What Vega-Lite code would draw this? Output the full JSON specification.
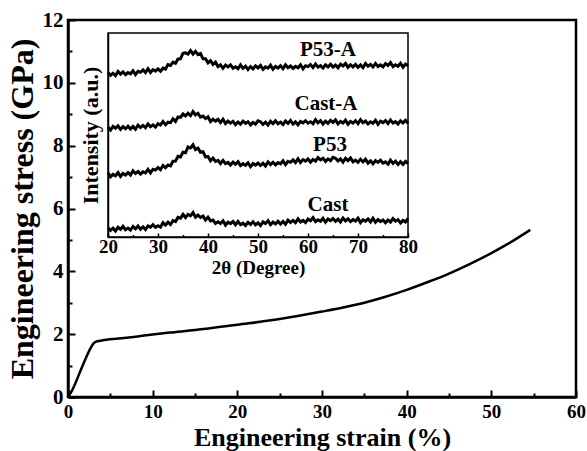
{
  "$schema": "https://vega.github.io/schema/vega-lite/v6.json",
  "width": 508,
  "height": 377,
  "autosize": {"type": "none"},
  "padding": {"left": 68, "top": 20, "right": 11, "bottom": 54},
  "background": "white",
  "config": {
    "view": {"stroke": "black", "strokeWidth": 2.5},
    "axis": {
      "labelFont": "Liberation Serif",
      "titleFont": "Liberation Serif",
      "labelFontWeight": "bold",
      "titleFontWeight": "bold",
      "labelColor": "black",
      "titleColor": "black",
      "domainColor": "black",
      "tickColor": "black",
      "grid": false,
      "labelFlush": false,
      "labelOverlap": false,
      "labelBound": false
    },
    "text": {"font": "Liberation Serif"}
  },
  "layer": [
    {
      "data": {"values": [
        {"strain": 0, "stress": 0}, {"strain": 0.5, "stress": 0.22}, {"strain": 1, "stress": 0.52},
        {"strain": 1.5, "stress": 0.85}, {"strain": 2, "stress": 1.17}, {"strain": 2.5, "stress": 1.47},
        {"strain": 3, "stress": 1.7}, {"strain": 3.3, "stress": 1.76}, {"strain": 4, "stress": 1.8},
        {"strain": 6, "stress": 1.86}, {"strain": 8, "stress": 1.92}, {"strain": 10, "stress": 1.99},
        {"strain": 12, "stress": 2.05}, {"strain": 15, "stress": 2.13}, {"strain": 20, "stress": 2.3},
        {"strain": 25, "stress": 2.48}, {"strain": 30, "stress": 2.72}, {"strain": 32.5, "stress": 2.85},
        {"strain": 35, "stress": 3.0}, {"strain": 37.5, "stress": 3.19}, {"strain": 40, "stress": 3.41},
        {"strain": 42.5, "stress": 3.66}, {"strain": 45, "stress": 3.93}, {"strain": 47.5, "stress": 4.24},
        {"strain": 50, "stress": 4.58}, {"strain": 52, "stress": 4.88}, {"strain": 54.6, "stress": 5.32}
      ]},
      "mark": {"type": "line", "color": "black", "strokeWidth": 2.5, "interpolate": "monotone"},
      "encoding": {
        "x": {
          "field": "strain", "type": "quantitative",
          "scale": {"domain": [0, 60], "nice": false, "zero": false},
          "axis": {
            "orient": "bottom",
            "values": [0, 5, 10, 15, 20, 25, 30, 35, 40, 45, 50, 55, 60],
            "labelExpr": "datum.value % 10 === 0 ? datum.label : ''",
            "tickSize": {"condition": {"test": "datum.value % 10 === 0", "value": -7}, "value": -4},
            "tickWidth": 2,
            "domainWidth": 2.5,
            "labelFontSize": 19,
            "labelPadding": 12,
            "title": "Engineering strain (%)",
            "titleFontSize": 26,
            "titleBaseline": "alphabetic",
            "titleY": 48
          }
        },
        "y": {
          "field": "stress", "type": "quantitative",
          "scale": {"domain": [0, 12], "nice": false, "zero": false},
          "axis": {
            "orient": "left",
            "values": [0, 1, 2, 3, 4, 5, 6, 7, 8, 9, 10, 11, 12],
            "labelExpr": "datum.value % 2 === 0 ? datum.label : ''",
            "tickSize": {"condition": {"test": "datum.value % 2 === 0", "value": -7}, "value": -4},
            "tickWidth": 2,
            "domainWidth": 2.5,
            "labelFontSize": 21,
            "labelPadding": 12,
            "title": "Engineering stress (GPa)",
            "titleFontSize": 32,
            "titlePadding": 3
          }
        }
      }
    },
    {
      "layer": [
        {
          "data": {"values": [{"x1": 20, "x2": 80, "y1": 0, "y2": 204}]},
          "mark": {"type": "rect", "fill": null, "fillOpacity": 0, "stroke": "black", "strokeWidth": 1.5},
          "encoding": {
            "x": {"field": "x1", "type": "quantitative", "scale": {"domain": [20, 80], "range": [40, 340], "nice": false, "zero": false}},
            "x2": {"field": "x2"},
            "y": {"field": "y1", "type": "quantitative", "scale": {"domain": [0, 204], "range": [217, 13], "nice": false, "zero": false}},
            "y2": {"field": "y2"}
          }
        },
        {
          "data": {"values": [
            {"lx": 64, "ly": 187, "label": "P53-A"},
            {"lx": 63.6, "ly": 133, "label": "Cast-A"},
            {"lx": 64.4, "ly": 92, "label": "P53"},
            {"lx": 64, "ly": 32, "label": "Cast"}
          ]},
          "mark": {"type": "text", "fontSize": 21, "fontWeight": "bold", "font": "Liberation Serif", "color": "black", "align": "center", "baseline": "middle"},
          "encoding": {
            "x": {"field": "lx", "type": "quantitative", "scale": {"domain": [20, 80], "range": [40, 340], "nice": false, "zero": false}},
            "y": {"field": "ly", "type": "quantitative", "scale": {"domain": [0, 204], "range": [217, 13], "nice": false, "zero": false}},
            "text": {"field": "label"}
          }
        },
        {
          "data": {"values": [
            {"t":20,"Cast":9.2,"P53":64.1,"CastA":109.7,"P53A":164.5},
            {"t":20.5,"Cast":6.5,"P53":60.2,"CastA":106.9,"P53A":161.7},
            {"t":21,"Cast":8.8,"P53":62.6,"CastA":110.6,"P53A":163.8},
            {"t":21.5,"Cast":5.9,"P53":61.2,"CastA":108.7,"P53A":161.3},
            {"t":22,"Cast":9.7,"P53":64.4,"CastA":111.2,"P53A":165.5},
            {"t":22.5,"Cast":7.7,"P53":60.6,"CastA":107.6,"P53A":162.9},
            {"t":23,"Cast":10.7,"P53":63.5,"CastA":110.4,"P53A":165.2},
            {"t":23.5,"Cast":7.2,"P53":62,"CastA":108.3,"P53A":162.3},
            {"t":24,"Cast":8.9,"P53":64.4,"CastA":110.8,"P53A":164.4},
            {"t":24.5,"Cast":6.9,"P53":61.9,"CastA":108,"P53A":163.2},
            {"t":25,"Cast":10.5,"P53":66.3,"CastA":110.5,"P53A":166.3},
            {"t":25.5,"Cast":8.1,"P53":63.6,"CastA":107.7,"P53A":162.4},
            {"t":26,"Cast":11,"P53":65.5,"CastA":111.9,"P53A":165.7},
            {"t":26.5,"Cast":7.7,"P53":62.9,"CastA":109.5,"P53A":164.7},
            {"t":27,"Cast":10.2,"P53":65.2,"CastA":111.6,"P53A":167.1},
            {"t":27.5,"Cast":7.5,"P53":64.2,"CastA":109.3,"P53A":164.4},
            {"t":28,"Cast":11.1,"P53":67.7,"CastA":113.1,"P53A":168.3},
            {"t":28.5,"Cast":9.9,"P53":64.1,"CastA":110.3,"P53A":164.5},
            {"t":29,"Cast":12.3,"P53":67.8,"CastA":112.1,"P53A":167.4},
            {"t":29.5,"Cast":9.6,"P53":66.9,"CastA":109.9,"P53A":165.8},
            {"t":30,"Cast":11.3,"P53":69.5,"CastA":113.4,"P53A":168.1},
            {"t":30.5,"Cast":9.8,"P53":67.3,"CastA":112,"P53A":165.7},
            {"t":31,"Cast":14.4,"P53":71.5,"CastA":115.4,"P53A":169},
            {"t":31.5,"Cast":12,"P53":69.4,"CastA":112.2,"P53A":168},
            {"t":32,"Cast":14.8,"P53":71.9,"CastA":114.8,"P53A":172.4},
            {"t":32.5,"Cast":12.5,"P53":71,"CastA":114.3,"P53A":171.6},
            {"t":33,"Cast":16.4,"P53":75.7,"CastA":118.2,"P53A":174.8},
            {"t":33.5,"Cast":15.4,"P53":75.9,"CastA":115.6,"P53A":173.6},
            {"t":34,"Cast":19.6,"P53":80.8,"CastA":120,"P53A":178.1},
            {"t":34.5,"Cast":18.8,"P53":80.1,"CastA":119.6,"P53A":178.3},
            {"t":35,"Cast":22.6,"P53":84.7,"CastA":123,"P53A":183.7},
            {"t":35.5,"Cast":19.5,"P53":84.2,"CastA":121,"P53A":184.2},
            {"t":36,"Cast":22.6,"P53":90.1,"CastA":123.8,"P53A":183},
            {"t":36.5,"Cast":21.2,"P53":89,"CastA":121.3,"P53A":186.5},
            {"t":37,"Cast":24.4,"P53":92.2,"CastA":125.5,"P53A":182.9},
            {"t":37.5,"Cast":19.8,"P53":87.3,"CastA":122.1,"P53A":185.7},
            {"t":38,"Cast":22,"P53":88.9,"CastA":123.7,"P53A":182.4},
            {"t":38.5,"Cast":19.5,"P53":84.8,"CastA":119.8,"P53A":183.5},
            {"t":39,"Cast":20.9,"P53":85.3,"CastA":120.9,"P53A":178.2},
            {"t":39.5,"Cast":16.9,"P53":80.2,"CastA":118.4,"P53A":178.2},
            {"t":40,"Cast":19.8,"P53":80.5,"CastA":120.3,"P53A":174.1},
            {"t":40.5,"Cast":16.1,"P53":76.2,"CastA":115.4,"P53A":176.3},
            {"t":41,"Cast":17,"P53":78.9,"CastA":117.7,"P53A":172.6},
            {"t":41.5,"Cast":13.6,"P53":75.5,"CastA":115.9,"P53A":174.8},
            {"t":42,"Cast":15.2,"P53":76.6,"CastA":117.6,"P53A":170.4},
            {"t":42.5,"Cast":13.5,"P53":73.5,"CastA":114.4,"P53A":172.2},
            {"t":43,"Cast":16.2,"P53":76.6,"CastA":117.8,"P53A":168.7},
            {"t":43.5,"Cast":11.9,"P53":73.3,"CastA":113.5,"P53A":171.9},
            {"t":44,"Cast":14.8,"P53":74.6,"CastA":115.9,"P53A":170.1},
            {"t":44.5,"Cast":13.4,"P53":71.9,"CastA":113.8,"P53A":172.1},
            {"t":45,"Cast":15.5,"P53":74.9,"CastA":115.6,"P53A":168.8},
            {"t":45.5,"Cast":12.3,"P53":72.8,"CastA":112.4,"P53A":170.3},
            {"t":46,"Cast":15.5,"P53":75.4,"CastA":115,"P53A":168.3},
            {"t":46.5,"Cast":12.4,"P53":71.4,"CastA":112.8,"P53A":172.2},
            {"t":47,"Cast":13.9,"P53":73.3,"CastA":115.9,"P53A":168.7},
            {"t":47.5,"Cast":11.5,"P53":71.6,"CastA":113.6,"P53A":170.8},
            {"t":48,"Cast":14.7,"P53":74.2,"CastA":115.3,"P53A":167.5},
            {"t":48.5,"Cast":12.6,"P53":70.3,"CastA":112.1,"P53A":170.4},
            {"t":49,"Cast":15.3,"P53":73.5,"CastA":114.6,"P53A":168.1},
            {"t":49.5,"Cast":12.1,"P53":71.8,"CastA":112.8,"P53A":171.1},
            {"t":50,"Cast":14.2,"P53":74,"CastA":116.2,"P53A":169},
            {"t":50.5,"Cast":11.4,"P53":71.5,"CastA":115.2,"P53A":171.6},
            {"t":51,"Cast":15.1,"P53":73.8,"CastA":112.5,"P53A":167.7},
            {"t":51.5,"Cast":13.5,"P53":71,"CastA":114.8,"P53A":170.1},
            {"t":52,"Cast":16.2,"P53":75,"CastA":111.9,"P53A":168.9},
            {"t":52.5,"Cast":12.3,"P53":72.4,"CastA":115.7,"P53A":171.9},
            {"t":53,"Cast":14.9,"P53":74.7,"CastA":113.4,"P53A":167.8},
            {"t":53.5,"Cast":13.1,"P53":72.1,"CastA":116.2,"P53A":170.5},
            {"t":54,"Cast":15.8,"P53":74.4,"CastA":113.2,"P53A":169},
            {"t":54.5,"Cast":13,"P53":73.2,"CastA":114.9,"P53A":171.4},
            {"t":55,"Cast":15.5,"P53":76.3,"CastA":112.6,"P53A":168.4},
            {"t":55.5,"Cast":12.7,"P53":72.4,"CastA":116,"P53A":172.3},
            {"t":56,"Cast":16.9,"P53":75.7,"CastA":113.6,"P53A":169.3},
            {"t":56.5,"Cast":14.5,"P53":74.7,"CastA":116.5,"P53A":171},
            {"t":57,"Cast":16.6,"P53":77.1,"CastA":112.9,"P53A":168.6},
            {"t":57.5,"Cast":14.3,"P53":74.4,"CastA":115.2,"P53A":170.7},
            {"t":58,"Cast":18.1,"P53":78.3,"CastA":112.2,"P53A":169.2},
            {"t":58.5,"Cast":15,"P53":74.5,"CastA":115.6,"P53A":172.2},
            {"t":59,"Cast":16.6,"P53":77.4,"CastA":114.1,"P53A":168.1},
            {"t":59.5,"Cast":14.4,"P53":75.8,"CastA":116.3,"P53A":171.3},
            {"t":60,"Cast":17.9,"P53":78.1,"CastA":113.8,"P53A":170.4},
            {"t":60.5,"Cast":16.3,"P53":74.9,"CastA":115.3,"P53A":172.5},
            {"t":61,"Cast":19.4,"P53":77.5,"CastA":113.3,"P53A":169.5},
            {"t":61.5,"Cast":15.4,"P53":75.8,"CastA":117.4,"P53A":173},
            {"t":62,"Cast":17.3,"P53":79.4,"CastA":114.2,"P53A":169.9},
            {"t":62.5,"Cast":15.8,"P53":77.1,"CastA":116.3,"P53A":171.4},
            {"t":63,"Cast":18.7,"P53":78.8,"CastA":113,"P53A":169},
            {"t":63.5,"Cast":14.8,"P53":75.6,"CastA":115.9,"P53A":172.2},
            {"t":64,"Cast":18,"P53":78.1,"CastA":113.6,"P53A":170.1},
            {"t":64.5,"Cast":16.3,"P53":76.3,"CastA":116.6,"P53A":172.8},
            {"t":65,"Cast":18.5,"P53":79.7,"CastA":114.5,"P53A":169.9},
            {"t":65.5,"Cast":15.7,"P53":78.7,"CastA":117.1,"P53A":172},
            {"t":66,"Cast":17.8,"P53":76,"CastA":113.2,"P53A":169.2},
            {"t":66.5,"Cast":15,"P53":78.1,"CastA":115.6,"P53A":172.9},
            {"t":67,"Cast":19,"P53":74.9,"CastA":113.9,"P53A":171},
            {"t":67.5,"Cast":16.1,"P53":78.7,"CastA":116.9,"P53A":173.5},
            {"t":68,"Cast":18.2,"P53":76.4,"CastA":112.8,"P53A":169.6},
            {"t":68.5,"Cast":15.3,"P53":79,"CastA":115.5,"P53A":172.2},
            {"t":69,"Cast":17.4,"P53":75.2,"CastA":114,"P53A":170.1},
            {"t":69.5,"Cast":15.9,"P53":76.9,"CastA":116.4,"P53A":172.6},
            {"t":70,"Cast":18.8,"P53":74.6,"CastA":113.4,"P53A":169.7},
            {"t":70.5,"Cast":14.4,"P53":77.8,"CastA":117.3,"P53A":172},
            {"t":71,"Cast":17.2,"P53":75.1,"CastA":114.3,"P53A":169.2},
            {"t":71.5,"Cast":15.9,"P53":77.8,"CastA":116,"P53A":173.4},
            {"t":72,"Cast":18.1,"P53":73.9,"CastA":113.1,"P53A":170.7},
            {"t":72.5,"Cast":15.1,"P53":76.2,"CastA":115.2,"P53A":172.6},
            {"t":73,"Cast":18.8,"P53":73.2,"CastA":113.7,"P53A":170},
            {"t":73.5,"Cast":14.7,"P53":76.4,"CastA":116.7,"P53A":173.6},
            {"t":74,"Cast":17.4,"P53":74.6,"CastA":112.6,"P53A":170.5},
            {"t":74.5,"Cast":15.3,"P53":76.8,"CastA":115.8,"P53A":172.1},
            {"t":75,"Cast":17.1,"P53":73.8,"CastA":114.4,"P53A":170.1},
            {"t":75.5,"Cast":14.2,"P53":75.1,"CastA":116.5,"P53A":173.4},
            {"t":76,"Cast":17,"P53":72.8,"CastA":113.5,"P53A":171.5},
            {"t":76.5,"Cast":15,"P53":76.9,"CastA":117,"P53A":174.4},
            {"t":77,"Cast":18.4,"P53":73.7,"CastA":113.9,"P53A":170.4},
            {"t":77.5,"Cast":15.9,"P53":75.8,"CastA":115.4,"P53A":172.3},
            {"t":78,"Cast":17.3,"P53":72.5,"CastA":113,"P53A":170.8},
            {"t":78.5,"Cast":14.1,"P53":75.2,"CastA":116.2,"P53A":173.7},
            {"t":79,"Cast":16.6,"P53":72.6,"CastA":114.1,"P53A":169.8},
            {"t":79.5,"Cast":15.1,"P53":75.6,"CastA":116.8,"P53A":173},
            {"t":80,"Cast":18.7,"P53":73.5,"CastA":113.6,"P53A":171.3}
          ]},
          "transform": [{"fold": ["Cast", "P53", "CastA", "P53A"], "as": ["sample", "intensity"]}],
          "mark": {"type": "line", "color": "black", "strokeWidth": 3},
          "encoding": {
            "x": {
              "field": "t", "type": "quantitative",
              "scale": {"domain": [20, 80], "range": [40, 340], "nice": false, "zero": false},
              "axis": {
                "orient": "bottom",
                "offset": -160,
                "values": [20, 25, 30, 35, 40, 45, 50, 55, 60, 65, 70, 75, 80],
                "labelExpr": "datum.value % 10 === 0 ? datum.label : ''",
                "tickSize": {"condition": {"test": "datum.value % 10 === 0", "value": -4}, "value": -2.5},
                "tickWidth": 1.5,
                "domainWidth": 1.5,
                "labelFontSize": 19,
                "labelPadding": 4,
                "title": "2θ (Degree)",
                "titleFontSize": 19,
                "titleBaseline": "alphabetic",
                "titleY": 36
              }
            },
            "y": {
              "field": "intensity", "type": "quantitative",
              "scale": {"domain": [0, 204], "range": [217, 13], "nice": false, "zero": false},
              "axis": {
                "orient": "left",
                "offset": -40,
                "ticks": false,
                "labels": false,
                "domainWidth": 1.5,
                "title": "Intensity (a.u.)",
                "titleFontSize": 22,
                "titlePadding": 6
              }
            },
            "detail": {"field": "sample", "type": "nominal"}
          }
        }
      ]
    }
  ],
  "resolve": {"scale": {"x": "independent", "y": "independent"}}
}
